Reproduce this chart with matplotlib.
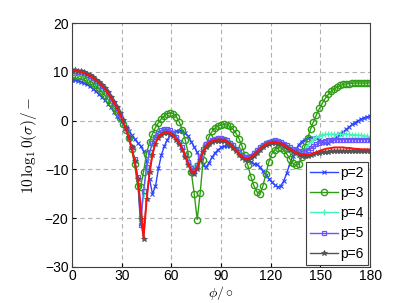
import numpy as np
import matplotlib
matplotlib.use("Agg")
import matplotlib.pyplot as plt

plt.rcParams['font.family'] = ['Liberation Sans', 'DejaVu Sans']
plt.rcParams['mathtext.fontset'] = 'cm'

phi = np.linspace(0, 180, 101)

p2 = [8.3, 8.3, 8.2, 8.0, 7.7, 7.4, 7.0, 6.5, 6.0, 5.4,
      4.8, 4.2, 3.5, 2.8, 1.8, 1.0, 0.2, -0.6, -1.4, -2.2,
      -3.0, -3.8, -4.5, -5.2, -6.3, -8.3, -12.0, -15.0, -13.5, -9.8,
      -7.0, -5.2, -3.9, -3.0, -2.5, -2.2, -2.1, -2.2, -2.6, -3.2,
      -4.3, -5.4, -6.5, -8.0, -9.2, -9.5, -8.6, -7.5, -6.6, -6.0,
      -5.5, -5.3, -5.2, -5.2, -5.4, -5.9, -6.5, -7.0, -7.4, -7.9,
      -8.4, -8.8, -9.0, -9.6, -10.3, -11.1, -11.9, -12.6, -13.2, -13.6,
      -13.4, -12.4, -10.8, -9.0, -7.3, -6.0, -5.0, -4.3, -3.9, -3.6,
      -3.5, -3.5, -3.6, -3.9, -4.3, -4.6, -4.5, -4.2, -3.8, -3.3,
      -2.8, -2.3, -1.8, -1.3, -0.8, -0.4, 0.0, 0.3, 0.6, 0.8, 0.9]

p3 = [9.3, 9.3, 9.2, 9.1, 8.9, 8.6, 8.2, 7.7, 7.2, 6.6,
      6.0, 5.2, 4.4, 3.6, 2.7, 1.7, 0.6, -0.6, -1.9, -3.6,
      -5.8, -9.0, -13.4, -13.6, -10.5, -6.8, -4.4, -2.7, -1.4, -0.4,
      0.4, 1.0, 1.4, 1.6, 1.4, 0.8, -0.3, -1.9, -4.0, -6.8,
      -10.5, -15.0, -20.3, -14.8, -8.0, -5.0, -3.3, -2.2, -1.5, -1.1,
      -0.9, -0.8, -0.9, -1.2, -1.8, -2.6, -3.7, -5.2, -7.0, -9.2,
      -11.5, -13.3, -14.6, -15.0, -13.5, -11.0, -8.5, -6.8, -6.0, -5.6,
      -5.6, -6.0, -6.8, -7.8, -8.7, -9.2, -9.0, -7.5, -5.5, -3.6,
      -1.8, -0.2, 1.2, 2.5, 3.6, 4.6, 5.4, 6.0, 6.5, 6.9,
      7.2, 7.4, 7.5, 7.6, 7.7, 7.7, 7.7, 7.7, 7.7, 7.7, 7.7]

p4 = [9.9, 9.9, 9.8, 9.7, 9.5, 9.2, 8.9, 8.5, 8.0, 7.5,
      6.9, 6.2, 5.4, 4.5, 3.5, 2.4, 1.1, -0.3, -1.8, -3.6,
      -5.6, -8.0, -11.8, -19.5, -15.0, -9.8, -6.7, -4.7, -3.4, -2.6,
      -2.1, -1.9, -1.9, -2.1, -2.6, -3.4, -4.4, -5.6, -7.0, -8.3,
      -9.2, -9.5, -8.7, -7.2, -5.8, -4.9, -4.3, -3.9, -3.7, -3.6,
      -3.6, -3.7, -4.0, -4.5, -5.1, -5.8, -6.5, -7.1, -7.5, -7.5,
      -7.2, -6.7, -6.1, -5.5, -5.0, -4.6, -4.3, -4.1, -4.1, -4.2,
      -4.5, -4.9, -5.3, -5.8, -6.2, -6.6, -6.8, -6.7, -6.1, -5.2,
      -4.4, -3.8, -3.4, -3.1, -2.9, -2.8, -2.8, -2.8, -2.8, -2.8,
      -2.8, -2.8, -2.8, -2.8, -2.9, -2.9, -3.0, -3.0, -3.1, -3.2, -3.3]

p5 = [10.1, 10.1, 10.0, 9.9, 9.7, 9.4, 9.1, 8.7, 8.2, 7.7,
      7.1, 6.4, 5.6, 4.7, 3.7, 2.6, 1.3, -0.1, -1.6, -3.4,
      -5.4, -7.9, -11.5, -21.5, -14.5, -9.5, -6.5, -4.6, -3.3, -2.5,
      -2.0, -1.8, -1.8, -2.0, -2.5, -3.3, -4.3, -5.5, -7.0, -8.5,
      -9.7, -10.1, -9.2, -7.4, -5.9, -4.9, -4.3, -3.9, -3.7, -3.6,
      -3.6, -3.7, -4.0, -4.5, -5.1, -5.8, -6.5, -7.1, -7.5, -7.5,
      -7.2, -6.7, -6.1, -5.5, -5.0, -4.6, -4.3, -4.1, -4.0, -4.1,
      -4.3, -4.7, -5.1, -5.5, -5.8, -6.0, -6.2, -6.3, -6.3, -6.1,
      -5.7, -5.3, -4.9, -4.6, -4.3, -4.1, -4.0, -3.9, -3.9, -3.9,
      -3.9, -3.9, -3.9, -3.9, -3.9, -3.9, -3.9, -3.9, -3.9, -3.9, -3.9]

p6 = [10.3, 10.3, 10.2, 10.1, 9.9, 9.6, 9.3, 8.9, 8.4, 7.9,
      7.3, 6.6, 5.8, 4.9, 3.9, 2.8, 1.5, 0.1, -1.5, -3.3,
      -5.5, -8.2, -11.9, -20.2, -24.2, -16.0, -10.6, -7.0, -4.7, -3.5,
      -2.9, -2.6, -2.5, -2.7, -3.2, -4.0, -4.8, -6.0, -7.5, -9.1,
      -10.5, -11.0, -9.9, -8.0, -6.4, -5.4, -4.8, -4.4, -4.2, -4.1,
      -4.1, -4.2, -4.5, -5.0, -5.6, -6.3, -7.0, -7.6, -8.0, -8.0,
      -7.7, -7.2, -6.6, -6.0, -5.5, -5.1, -4.8, -4.6, -4.6, -4.7,
      -4.9, -5.2, -5.6, -6.0, -6.4, -6.7, -7.0, -7.2, -7.3, -7.2,
      -7.1, -6.9, -6.7, -6.6, -6.5, -6.4, -6.4, -6.3, -6.3, -6.3,
      -6.3, -6.3, -6.2, -6.2, -6.2, -6.3, -6.3, -6.3, -6.3, -6.3, -6.3]

ref = [10.2, 10.2, 10.1, 10.0, 9.8, 9.5, 9.2, 8.8, 8.3, 7.8,
       7.2, 6.5, 5.7, 4.8, 3.8, 2.7, 1.4, 0.0, -1.6, -3.4,
       -5.6, -8.3, -11.8, -17.0, -24.0, -16.5, -10.8, -6.8, -4.6, -3.4,
       -2.8, -2.5, -2.4, -2.6, -3.1, -3.9, -4.6, -5.8, -7.3, -8.9,
       -10.3, -10.7, -9.6, -7.8, -6.3, -5.3, -4.5, -4.2, -4.0, -3.9,
       -3.9, -4.0, -4.3, -4.8, -5.4, -6.1, -6.8, -7.4, -7.8, -7.8,
       -7.5, -7.0, -6.4, -5.8, -5.3, -4.9, -4.6, -4.4, -4.4, -4.5,
       -4.7, -5.0, -5.4, -5.8, -6.2, -6.5, -6.8, -6.9, -7.0, -7.0,
       -6.9, -6.7, -6.5, -6.2, -6.0, -5.8, -5.7, -5.6, -5.5, -5.5,
       -5.5, -5.5, -5.6, -5.6, -5.7, -5.8, -5.8, -5.9, -5.9, -5.9, -5.9]

labels = ['p=2', 'p=3', 'p=4', 'p=5', 'p=6']
xticks = [0, 30, 60, 90, 120, 150, 180]
yticks = [-30, -20, -10, 0, 10, 20]

fig = plt.figure(figsize=(4.09, 3.03), dpi=100)
ax = fig.add_axes([0.176, 0.119, 0.729, 0.805])

ax.plot(phi, p2, color='#2a44ff', marker='x', ms=3, mew=0.8, lw=1.0, label=labels[0])
ax.plot(phi, p3, color='#2f9e14', marker='o', ms=4.5, mfc='none', mew=1.0, lw=1.0, label=labels[1])
ax.plot(phi, p4, color='#45f5b5', marker='+', ms=4, mew=0.9, lw=1.0, label=labels[2])
ax.plot(phi, p5, color='#6a55ff', marker='s', ms=3.5, mfc='none', mew=0.9, lw=1.0, label=labels[3])
ax.plot(phi, p6, color='#555555', marker='*', ms=4, mew=0.6, lw=1.0, label=labels[4])
ax.plot(phi, ref, color='#ff1010', lw=1.4)

ax.set_xlim(0, 180)
ax.set_ylim(-30, 20)
ax.set_xticks(xticks)
ax.set_yticks(yticks)
ax.set_xticklabels([str(t) for t in xticks])
ax.set_yticklabels([str(t).replace('-', '\u2212') for t in yticks])
ax.tick_params(direction='in', labelsize=10, length=3)
ax.tick_params(axis='x', pad=1.5)
ax.tick_params(axis='y', pad=2.5)
ax.grid(True, linestyle=(0, (4, 3)), color='#b0b0b0', lw=0.8)
for s in ax.spines.values():
    s.set_color('#404040')
    s.set_linewidth(0.8)

ax.set_xlabel(r'$\phi/\circ$', fontsize=10, labelpad=0.5)
ax.set_ylabel(r'$10\,\log_10(\sigma)/-$', fontsize=11, labelpad=4)

leg = ax.legend(loc='lower right', fontsize=10, frameon=True, fancybox=False,
                edgecolor='#404040', framealpha=1, borderpad=0.3, labelspacing=0.45,
                handlelength=2.0, handletextpad=0.2, borderaxespad=0.15)
leg.get_frame().set_linewidth(0.8)

fig.savefig('out.png', dpi=100)
